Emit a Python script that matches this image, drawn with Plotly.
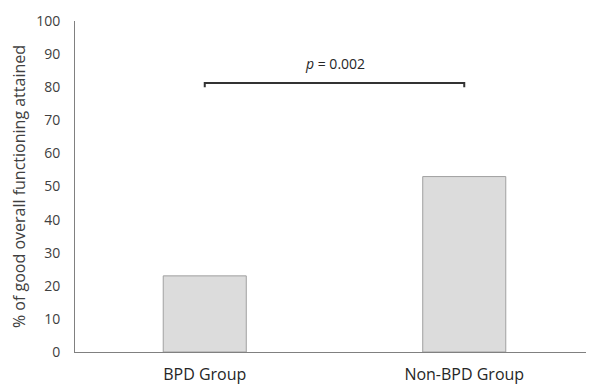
import plotly.graph_objects as go

categories = ["BPD Group", "Non-BPD Group"]
values = [23, 53]
y_ticks = [0, 10, 20, 30, 40, 50, 60, 70, 80, 90, 100]
bracket_y = 81.3
bracket_drop = 1.3
p_label = "<i>p</i> = 0.002"

fig = go.Figure()
fig.add_trace(go.Bar(
    x=categories, y=values, width=0.32,
    marker=dict(color="#dcdcdc", line=dict(color="#a0a0a0", width=1)),
))

fig.add_shape(type="path",
    path=f"M 0 {bracket_y - bracket_drop} L 0 {bracket_y} L 1 {bracket_y} L 1 {bracket_y - bracket_drop}",
    xref="x", yref="y", line=dict(color="#333333", width=2))
fig.add_annotation(x=0.5, y=bracket_y + 6.0, xref="x", yref="y", text=p_label,
    showarrow=False, font=dict(size=14, color="#262626"))

fig.update_layout(
    width=586, height=378,
    margin=dict(l=67, r=0, t=13, b=34),
    plot_bgcolor="white", paper_bgcolor="white",
    showlegend=False,
    font=dict(family="Open Sans", color="#404040"),
    xaxis=dict(range=[-0.5, 1.5], showline=True, linecolor="#808080", linewidth=1,
               ticks="", tickfont=dict(size=16, color="#262626"), showgrid=False,
               ticklabelstandoff=8),
    yaxis=dict(range=[0, 100], tickvals=y_ticks, showline=True, linecolor="#808080",
               linewidth=1, showgrid=False, zeroline=False, ticks="",
               tickfont=dict(size=14, color="#404040"), ticklabelstandoff=11,
               title=dict(text="% of good overall functioning attained",
                          font=dict(size=16, color="#404040"), standoff=6)),
)
fig.write_html("out.html")
